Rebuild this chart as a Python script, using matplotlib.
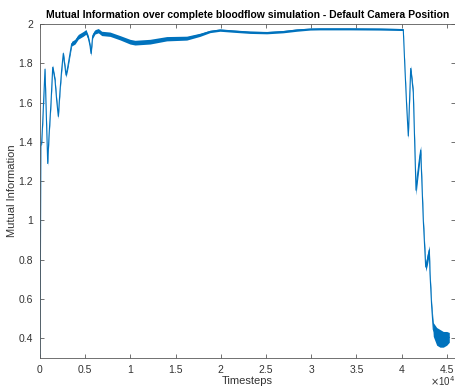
import matplotlib
matplotlib.use("Agg")
import matplotlib.pyplot as plt
from matplotlib.ticker import FuncFormatter
import numpy as np

# Data (timesteps, mutual information, noise half-width)
timesteps = [0, 100, 188, 299, 553, 852, 995, 1217, 1405, 1659, 1847, 2024, 2212,
             2400, 2577, 2765, 2876, 3064, 3318, 3506, 3871, 4236, 4789, 5088, 5342,
             5530, 5641, 5829, 6083, 6448, 6824, 7742, 8848, 9954, 10507, 12166,
             14013, 16225, 17696, 18802, 19908, 21346, 23226, 25073, 26876, 28389,
             29862, 30968, 34286, 37604, 39816, 40114, 40180, 40369, 40556, 40734,
             40999, 41177, 41287, 41586, 41729, 41951, 42105, 42216, 42393, 42658,
             42835, 43056, 43134, 43322, 43499, 43875, 44240, 44605, 44981, 45268]
mutual_info = [0.31, 1.38, 1.40, 1.50, 1.77, 1.29, 1.43, 1.60, 1.78, 1.715, 1.61, 1.53,
               1.66, 1.77, 1.85, 1.78, 1.74, 1.78, 1.85, 1.90, 1.91, 1.935, 1.95, 1.96,
               1.93, 1.89, 1.85, 1.94, 1.96, 1.966, 1.952, 1.948, 1.93, 1.91, 1.905,
               1.91, 1.925, 1.928, 1.945, 1.962, 1.969, 1.964, 1.958, 1.956, 1.961,
               1.969, 1.974, 1.975, 1.975, 1.974, 1.972, 1.972, 1.97, 1.766, 1.58,
               1.43, 1.774, 1.70, 1.65, 1.154, 1.22, 1.307, 1.358, 1.22, 1.0, 0.763,
               0.80, 0.85, 0.73, 0.56, 0.445, 0.41, 0.40, 0.395, 0.40, 0.405]
noise_half = [0.0, 0.0, 0.012, 0.012, 0.012, 0.012, 0.012, 0.012, 0.012, 0.012, 0.012,
              0.012, 0.012, 0.012, 0.012, 0.012, 0.012, 0.012, 0.012, 0.012, 0.012,
              0.012, 0.012, 0.012, 0.012, 0.012, 0.012, 0.012, 0.011, 0.011, 0.011,
              0.011, 0.011, 0.012, 0.012, 0.012, 0.011, 0.010, 0.008, 0.006, 0.006,
              0.006, 0.006, 0.006, 0.006, 0.006, 0.005, 0.005, 0.005, 0.005, 0.005,
              0.005, 0.005, 0.01, 0.01, 0.015, 0.015, 0.015, 0.015, 0.025, 0.028,
              0.028, 0.022, 0.02, 0.02, 0.022, 0.028, 0.022, 0.02, 0.02, 0.035, 0.045,
              0.045, 0.04, 0.035, 0.025]
x_ticks = [0, 5000, 10000, 15000, 20000, 25000, 30000, 35000, 40000, 45000]
y_ticks = [0.4, 0.6, 0.8, 1.0, 1.2, 1.4, 1.6, 1.8, 2.0]

plt.rcParams['font.family'] = ['Liberation Sans', 'DejaVu Sans']

fig = plt.figure(figsize=(4.56, 3.89), dpi=100)
ax = fig.add_axes([40/456, 1-358/389, 415/456, (358-24)/389])

t = np.array(timesteps, dtype=float)
m = np.array(mutual_info)
h = np.array(noise_half)
color = '#0072BD'
ax.fill_between(t, m - h, m + h, color=color, linewidth=0)
ax.plot(t, m, color=color, linewidth=0.8)

ax.set_xlim(0, 45900)
ax.set_ylim(0.3, 2.0)
ax.set_xticks(x_ticks)
ax.set_yticks(y_ticks)
ax.xaxis.set_major_formatter(FuncFormatter(lambda v, p: f"{v/1e4:g}"))
ax.yaxis.set_major_formatter(FuncFormatter(lambda v, p: f"{v:g}"))

axcol = '#333333'
for s in ax.spines.values():
    s.set_color('#5a5a5a')
    s.set_linewidth(0.6)
ax.tick_params(direction='in', length=3, width=0.6, colors='#5a5a5a',
               labelcolor=axcol, labelsize=7.5, top=True, right=True, pad=5)

ax.set_title('Mutual Information over complete bloodflow simulation - Default Camera Position',
             fontsize=7.5, fontweight='bold', color='black', pad=4)
ax.set_xlabel('Timesteps', fontsize=8, color=axcol, labelpad=1)
ax.set_ylabel('Mutual Information', fontsize=8, color=axcol, labelpad=1)
fig.text(430/456, 1/389, r'$\times$10$^4$', fontsize=7, color=axcol,
         ha='left', va='bottom')

fig.savefig('out.png', dpi=100)
